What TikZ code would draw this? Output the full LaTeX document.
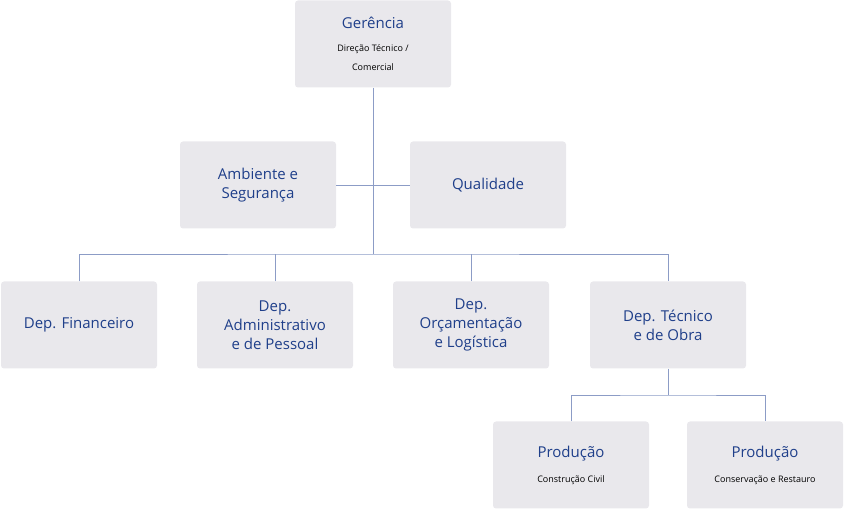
\documentclass[tikz,border=0pt]{standalone}
\usepackage{fontspec}
\setmainfont{Open Sans}
\usetikzlibrary{positioning}
\definecolor{boxgray}{HTML}{E9E8EC}
\definecolor{txtblue}{HTML}{1F3F8A}
\definecolor{linkblue}{HTML}{8C9CC6}
\newcommand{\subtxt}{\fontsize{9}{14}\selectfont\color{black}}
\tikzset{
  unit/.style={fill=boxgray, rounded corners=3pt, minimum width=156pt, minimum height=87pt,
    align=center, text=txtblue, font=\fontsize{15}{19}\selectfont, inner sep=2pt},
  link/.style={draw=linkblue, line width=0.7pt}
}
\begin{document}
\begin{tikzpicture}[x=1pt,y=-1pt]
\useasboundingbox (0,0) rectangle (844,510);
\node[unit] (ger) at (373,44) {Gerência\\[4pt]\subtxt Direção Técnico /\\\subtxt Comercial};
\node[unit] (amb) at (258,185) {Ambiente e\\Segurança};
\node[unit] (qual) at (488,185) {Qualidade};
\node[unit] (fin) at (79,325) {Dep. Financeiro};
\node[unit] (adm) at (275,325) {Dep.\\Administrativo\\e de Pessoal};
\node[unit] (orc) at (471,325) {Dep.\\Orçamentação\\e Logística};
\node[unit] (tec) at (668,325) {Dep. Técnico\\e de Obra};
\node[unit] (civ) at (571,465) {Produção\\[6pt]\subtxt Construção Civil};
\node[unit] (res) at (765,465) {Produção\\[6pt]\subtxt Conservação e Restauro};
% connectors
\coordinate (top) at (373,254);
\coordinate (mid) at (668,395);
\draw[link] (ger.south) -- (top);
\draw[link] (amb.east) -- (qual.west);
\draw[link] (fin.north) |- (top) -| (tec.north);
\draw[link] (adm.north) -- (adm.north |- top);
\draw[link] (orc.north) -- (orc.north |- top);
\draw[link] (tec.south) -- (mid);
\draw[link] (civ.north) |- (mid) -| (res.north);
\end{tikzpicture}
\end{document}
